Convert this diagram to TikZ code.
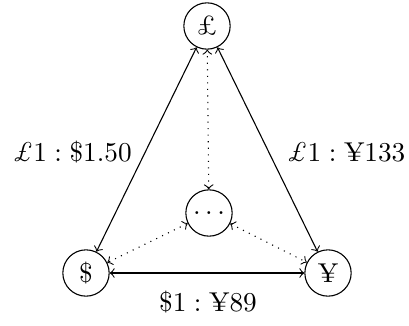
\documentclass[tikz,border=0pt]{standalone}
\begin{document}
\begin{tikzpicture}[x=0.367pt,y=-0.367pt,
  cur/.style={circle,draw,minimum size=17pt,inner sep=0pt},
  lab/.style={inner sep=0pt},
  solidarrow/.style={<->},
  dotarrow/.style={<->,dotted}]
\useasboundingbox (0,0) rectangle (409,325);
\node[cur] (gbp) at (207,26) {£};
\node[cur] (usd) at (86,273) {\$};
\node[cur] (jpy) at (328,273) {¥};
\node[cur] (oth) at (209,213) {$\ldots$};
\draw[solidarrow] (gbp) -- (usd);
\draw[solidarrow] (gbp) -- (jpy);
\draw[solidarrow] (usd) -- (jpy);
\draw[dotarrow] (oth) -- (gbp);
\draw[dotarrow] (oth) -- (usd);
\draw[dotarrow] (oth) -- (jpy);
\node[lab] (l1) at (72,152) {$\pounds1 : \$1.50$};
\node[lab] (l2) at (346,152) {$\pounds1 : \mbox{¥}133$};
\node[lab] (l3) at (208,302) {$\$1 : \mbox{¥}89$};
\end{tikzpicture}
\end{document}
